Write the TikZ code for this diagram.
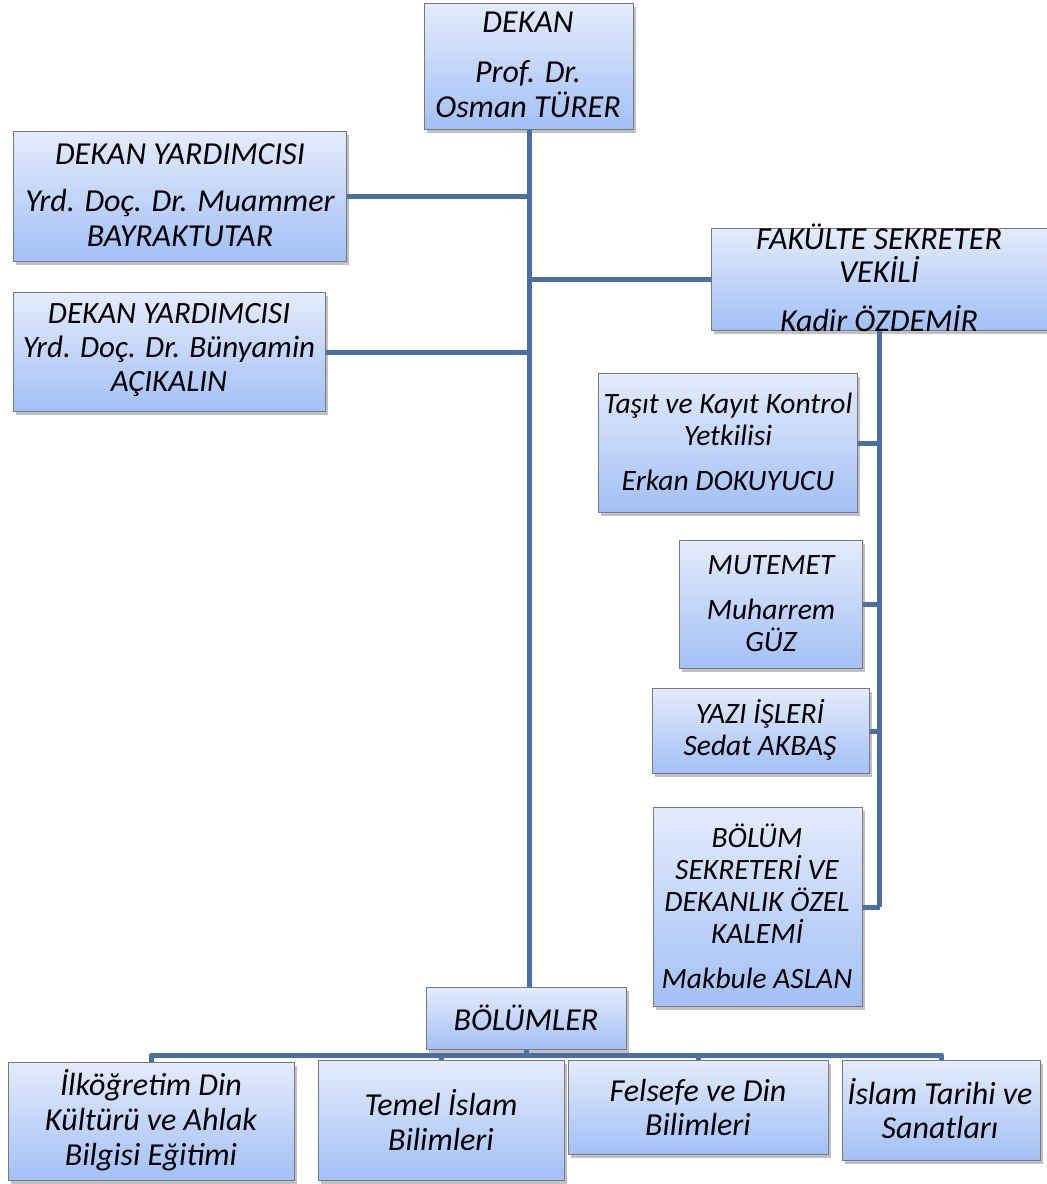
\documentclass[tikz,border=0pt]{standalone}
\usepackage{fontspec}
\setmainfont{Carlito}
\usetikzlibrary{shadows}
\definecolor{ln}{RGB}{74,112,163}
\definecolor{boxtop}{RGB}{228,235,252}
\definecolor{boxbot}{RGB}{162,192,246}
\definecolor{boxdraw}{RGB}{120,120,128}
\tikzset{
  orgbox/.style={draw=boxdraw, line width=1.2pt, top color=boxtop, bottom color=boxbot,
    drop shadow={shadow xshift=2.5pt, shadow yshift=-3.5pt, opacity=0.35, fill=black!70},
    inner sep=0pt, anchor=north west},
  txtbase/.style={align=center, inner sep=0pt, text=black},
  txtL/.style={txtbase, font=\fontsize{32}{35}\selectfont\itshape},
  txtM/.style={txtbase, font=\fontsize{31}{34}\selectfont\itshape},
  txtS/.style={txtbase, font=\fontsize{29.5}{32}\selectfont\itshape},
  conn/.style={draw=ln, line width=5pt, line join=round}
}
\newcommand\orgnode[5]{%
  \node[orgbox, minimum width={#4pt-#2pt}, minimum height={#5pt-#3pt}] (#1) at (#2,-#3) {};}
\begin{document}
\begin{tikzpicture}[x=1pt,y=1pt]
\useasboundingbox (0,0) rectangle (1047,-1184);

\orgnode{dekan}{424}{3}{633}{129}
\orgnode{dya}{13}{131}{346}{261}
\orgnode{dyb}{13}{292}{325}{411}
\orgnode{fs}{711}{228}{1047}{330}
\orgnode{tasit}{598}{373}{857}{512}
\orgnode{mutemet}{679}{540}{862}{668}
\orgnode{yazi}{652}{688}{869}{773}
\orgnode{bsek}{653}{807}{862}{1006}
\orgnode{bolumler}{426}{987}{626}{1049}
\orgnode{ba}{8}{1062}{294}{1180}
\orgnode{bb}{318}{1060}{564}{1180}
\orgnode{bc}{568}{1060}{828}{1154}
\orgnode{bd}{842}{1060}{1040}{1160}

\coordinate (bar) at (0,-1055);
\draw[conn] (dekan.south) -- (dekan.south |- bolumler.north);
\draw[conn] (dya.east) -- (dya.east -| dekan.south);
\draw[conn] (dyb.east) -- (dyb.east -| dekan.south);
\draw[conn] (fs.west) -- (fs.west -| dekan.south);
\draw[conn] (fs.south) -- (fs.south |- bsek.east);
\draw[conn] (tasit.east) -- (tasit.east -| fs.south);
\draw[conn] (mutemet.east) -- (mutemet.east -| fs.south);
\draw[conn] (yazi.east) -- (yazi.east -| fs.south);
\draw[conn] (bsek.east) -- (bsek.east -| fs.south);
\draw[conn] (bolumler.south) -- (bolumler.south |- bar);
\draw[conn] (ba.north) -- (ba.north |- bar) -- (bd.north |- bar) -- (bd.north);
\draw[conn] (bb.north) -- (bb.north |- bar);
\draw[conn] (bc.north) -- (bc.north |- bar);

\node[txtL] (tdekan) at (528,-65) {DEKAN\\[15pt]Prof. Dr.\\Osman TÜRER};
\node[txtL] (tdya) at (180,-195) {DEKAN YARDIMCISI\\[12pt]Yrd. Doç. Dr. Muammer\\BAYRAKTUTAR};
\node[txtM] (tdyb) at (169,-350) {DEKAN YARDIMCISI\\Yrd. Doç. Dr. Bünyamin\\AÇIKALIN};
\node[txtL,font=\fontsize{32}{33}\selectfont\itshape] (tfs) at (879,-278) {FAKÜLTE SEKRETER\\VEKİLİ\\[16pt]Kadir ÖZDEMİR};
\node[txtS] (ttasit) at (728,-442) {Taşıt ve Kayıt Kontrol\\Yetkilisi\\[13pt]Erkan DOKUYUCU};
\node[txtS] (tmutemet) at (771,-604) {MUTEMET\\[13pt]Muharrem\\GÜZ};
\node[txtS] (tyazi) at (760,-730) {YAZI İŞLERİ\\Sedat AKBAŞ};
\node[txtS] (tbsek) at (757,-906) {BÖLÜM\\SEKRETERİ VE\\DEKANLIK ÖZEL\\KALEMİ\\[13pt]Makbule ASLAN};
\node[txtL] (tbolumler) at (526,-1018) {BÖLÜMLER};
\node[txtL] (tba) at (151,-1120) {İlköğretim Din\\Kültürü ve Ahlak\\Bilgisi Eğitimi};
\node[txtL] (tbb) at (441,-1120) {Temel İslam\\Bilimleri};
\node[txtL,font=\fontsize{32}{34}\selectfont\itshape] (tbc) at (698,-1107) {Felsefe ve Din\\Bilimleri};
\node[txtL,font=\fontsize{32}{34}\selectfont\itshape] (tbd) at (940,-1109) {İslam Tarihi ve\\Sanatları};
\end{tikzpicture}
\end{document}
